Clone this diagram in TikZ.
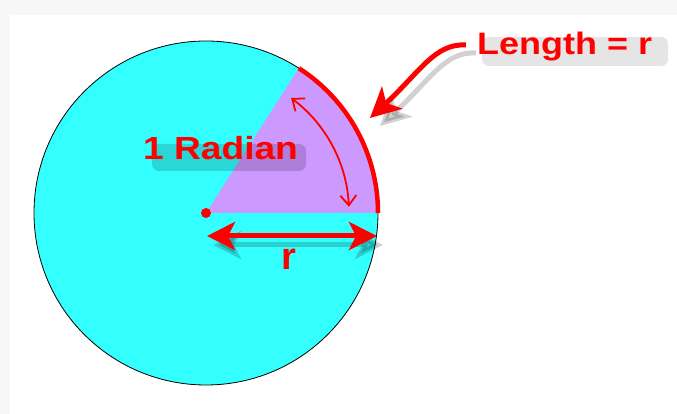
\documentclass[tikz,border=0pt]{standalone}
\usepackage{fontspec}
\setmainfont{Liberation Sans}
\definecolor{discCyan}{HTML}{33FFFF}
\definecolor{sectorPurple}{HTML}{CC99FF}
\definecolor{markRed}{HTML}{FF0000}
\usetikzlibrary{arrows.meta}

\begin{document}
\begin{tikzpicture}[x=1pt, y=1pt, every node/.style={font=\bfseries, text=markRed, inner sep=0pt},
    dropshadow/.style={draw=black, opacity=0.18},
    blobshadow/.style={fill=black, rounded corners=7pt},
    bigtip/.style={>={Stealth[length=28pt, width=28pt, inset=7pt]}}]
    % Background
    \fill[gray!6] (0,0) rectangle (677,414);
    \fill[white] (10,0) rectangle (677,399);
    \useasboundingbox (0,0) rectangle (677,414);

    % Disc and sector
    \coordinate (centre) at (206,201);
    \filldraw[fill=discCyan, draw=black, line width=0.8pt] (centre) circle[radius=172];
    \fill[sectorPurple] (centre) -- ++(0:171.5) arc[start angle=0, end angle=57.3, radius=171.5] -- cycle;
    \draw[markRed, line width=4.5pt] (centre) ++(0:172) arc[start angle=0, end angle=57.3, radius=172];
    \fill[markRed] (centre) circle[radius=5];

    % Angle arrow
    \draw[markRed, line width=1.8pt, {Straight Barb[length=10pt, width=16pt]}-{Straight Barb[length=10pt, width=16pt]}]
        (centre) ++(53.5:143) arc[start angle=53.5, end angle=2.5, radius=143];

    % Radius arrow
    \coordinate (rleft) at (207,178);
    \coordinate (rright) at (377,178);
    \draw[dropshadow, bigtip, <->, line width=5pt] ([shift={(6,-9)}]rleft) -- ([shift={(6,-9)}]rright);
    \draw[markRed, bigtip, <->, line width=5pt] (rleft) -- (rright);
    \node[anchor=base] (rlabel) at (289,144) {\fontsize{38}{42}\selectfont r};

    % Labels
    \fill[blobshadow, opacity=0.16] (152,243) rectangle (306,270);
    \node[anchor=base west, xscale=1.16] (radian) at (143,254) {\fontsize{32}{36}\selectfont 1 Radian};
    \fill[blobshadow, opacity=0.10] (482,348) rectangle (668,377);
    \node[anchor=base west, xscale=1.16] (length) at (477,359) {\fontsize{31}{36}\selectfont Length = r};

    % Arc pointer
    \coordinate (lenfrom) at (466,369);
    \coordinate (lento) at (370,296);
    \draw[dropshadow, line width=5pt, -{Stealth[length=30pt, width=30pt, inset=8pt]}]
        ([shift={(10,-8)}]lenfrom) .. controls ([shift={(10,-8)}]435,371) and ([shift={(10,-8)}]420,342) .. ([shift={(10,-8)}]lento);
    \draw[markRed, line width=5pt, -{Stealth[length=30pt, width=30pt, inset=8pt]}]
        (lenfrom) .. controls (435,371) and (420,342) .. (lento);
\end{tikzpicture}
\end{document}
